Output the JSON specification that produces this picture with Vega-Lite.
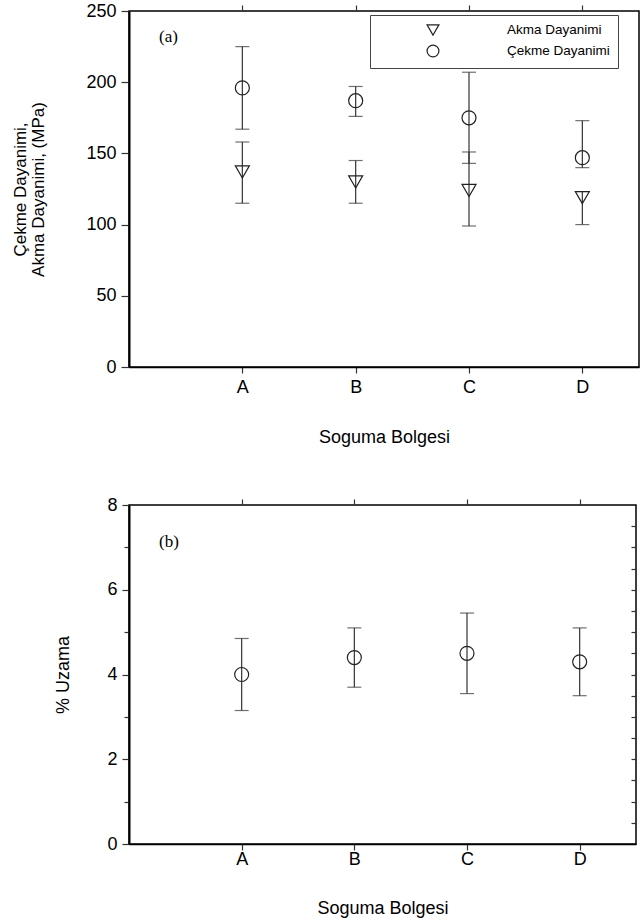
{
  "$schema": "https://vega.github.io/schema/vega-lite/v6.json",
  "background": "white",
  "padding": {"top": 1, "left": 11, "right": 0, "bottom": 0},
  "spacing": 48,
  "config": {
    "view": {"stroke": "black", "strokeWidth": 1.5},
    "axis": {"grid": false, "domainColor": "black", "domainWidth": 1.5, "tickColor": "#333", "tickWidth": 1.2, "labelFont": "Liberation Sans", "labelFontSize": 18, "labelColor": "black", "titleFont": "Liberation Sans", "titleFontSize": 18, "titleFontWeight": "normal", "titleColor": "black"},
    "title": {"font": "Liberation Serif", "fontSize": 17, "fontWeight": "normal", "color": "black"}
  },
  "vconcat": [
    {
      "width": 510,
      "height": 356,
      "title": {"text": "(a)", "anchor": "start", "frame": "group", "orient": "top", "offset": -35, "dx": 30, "dy": 26, "baseline": "bottom"},
      "data": {"values": [
        {"zone": "A", "series": "Çekme Dayanimi", "value": 196, "lo": 167, "hi": 225},
        {"zone": "B", "series": "Çekme Dayanimi", "value": 187, "lo": 176, "hi": 197},
        {"zone": "C", "series": "Çekme Dayanimi", "value": 175, "lo": 143, "hi": 207},
        {"zone": "D", "series": "Çekme Dayanimi", "value": 147, "lo": 140, "hi": 173},
        {"zone": "A", "series": "Akma Dayanimi", "value": 137, "lo": 115, "hi": 158},
        {"zone": "B", "series": "Akma Dayanimi", "value": 130, "lo": 115, "hi": 145},
        {"zone": "C", "series": "Akma Dayanimi", "value": 124, "lo": 99, "hi": 151},
        {"zone": "D", "series": "Akma Dayanimi", "value": 119, "lo": 100, "hi": 123}
      ]},
      "layer": [
        {
          "mark": {"type": "rule", "color": "#333", "strokeWidth": 1.2},
          "encoding": {
            "x": {"field": "zone", "type": "ordinal", "scale": {"type": "point", "domain": ["A", "B", "C", "D"], "padding": 0.75, "align": 0.6667},
                  "axis": {"orient": "bottom", "title": "Soguma Bolgesi", "tickSize": 6, "labelPadding": 5, "titlePadding": 32, "labelAngle": 0}},
            "y": {"field": "lo", "type": "quantitative", "scale": {"domain": [0, 250], "nice": false},
                  "axis": {"values": [0, 25, 50, 75, 100, 125, 150, 175, 200, 225, 250], "labelExpr": "datum.value % 50 === 0 ? datum.label : ''",
                           "tickSize": {"condition": {"test": "datum.value % 50 === 0", "value": 8}, "value": 5},
                           "labelPadding": 5, "domainWidth": 2, "title": ["Çekme Dayanimi,", "Akma Dayanimi, (MPa)"], "titleFontSize": 17, "titlePadding": 38, "titleLineHeight": 18}},
            "y2": {"field": "hi"}
          }
        },
        {
          "mark": {"type": "tick", "orient": "horizontal", "color": "#333", "size": 14, "thickness": 1.2},
          "encoding": {
            "x": {"field": "zone", "type": "ordinal", "axis": null},
            "y": {"field": "lo", "type": "quantitative"}
          }
        },
        {
          "mark": {"type": "tick", "orient": "horizontal", "color": "#333", "size": 14, "thickness": 1.2},
          "encoding": {
            "x": {"field": "zone", "type": "ordinal", "axis": null},
            "y": {"field": "hi", "type": "quantitative"}
          }
        },
        {
          "mark": {"type": "point", "filled": false, "color": "#222", "strokeWidth": 1.2, "size": 196, "opacity": 1},
          "encoding": {
            "x": {"field": "zone", "type": "ordinal", "axis": {"orient": "top", "title": null, "labels": false, "tickSize": 6, "domain": false}},
            "y": {"field": "value", "type": "quantitative"},
            "shape": {"field": "series", "type": "nominal", "scale": {"domain": ["Akma Dayanimi", "Çekme Dayanimi"], "range": ["triangle-down", "circle"]},
                      "legend": {"orient": "none", "legendX": 241, "legendY": 4, "title": null, "padding": 8, "symbolOffset": 48, "labelOffset": 67,
                                 "strokeColor": "#444", "fillColor": "white", "symbolSize": 140, "symbolStrokeWidth": 1.2, "symbolStrokeColor": "#222",
                                 "labelFont": "Liberation Sans", "labelFontSize": 13.5, "labelColor": "black", "rowPadding": 4}}
          }
        }
      ],
      "resolve": {"axis": {"x": "independent"}}
    },
    {
      "width": 507,
      "height": 339,
      "title": {"text": "(b)", "anchor": "start", "frame": "group", "orient": "top", "offset": -36, "dx": 30, "dy": 36, "baseline": "bottom"},
      "data": {"values": [
        {"zone": "A", "value": 4.0, "lo": 3.15, "hi": 4.85},
        {"zone": "B", "value": 4.4, "lo": 3.7, "hi": 5.1},
        {"zone": "C", "value": 4.5, "lo": 3.55, "hi": 5.45},
        {"zone": "D", "value": 4.3, "lo": 3.5, "hi": 5.1}
      ]},
      "layer": [
        {
          "mark": {"type": "rule", "color": "#333", "strokeWidth": 1.2},
          "encoding": {
            "x": {"field": "zone", "type": "ordinal", "scale": {"type": "point", "domain": ["A", "B", "C", "D"], "padding": 0.75, "align": 0.6667},
                  "axis": {"orient": "bottom", "title": "Soguma Bolgesi", "tickSize": 6, "labelPadding": 0, "titlePadding": 31, "labelAngle": 0}},
            "y": {"field": "lo", "type": "quantitative", "scale": {"domain": [0, 8], "nice": false},
                  "axis": {"values": [0, 0.5, 1, 1.5, 2, 2.5, 3, 3.5, 4, 4.5, 5, 5.5, 6, 6.5, 7, 7.5, 8], "format": "d", "labelExpr": "datum.value % 2 === 0 ? datum.label : ''",
                           "tickSize": {"condition": {"test": "datum.value % 2 === 0", "value": 7}, "value": 5},
                           "labelPadding": 5, "domainWidth": 2, "title": "% Uzama", "titlePadding": 34}},
            "y2": {"field": "hi"}
          }
        },
        {
          "mark": {"type": "tick", "orient": "horizontal", "color": "#333", "size": 14, "thickness": 1.2},
          "encoding": {
            "x": {"field": "zone", "type": "ordinal", "axis": null},
            "y": {"field": "lo", "type": "quantitative", "axis": null}
          }
        },
        {
          "mark": {"type": "tick", "orient": "horizontal", "color": "#333", "size": 14, "thickness": 1.2},
          "encoding": {
            "x": {"field": "zone", "type": "ordinal", "axis": null},
            "y": {"field": "hi", "type": "quantitative", "axis": null}
          }
        },
        {
          "mark": {"type": "point", "shape": "circle", "filled": false, "color": "#222", "strokeWidth": 1.2, "size": 196, "opacity": 1},
          "encoding": {
            "x": {"field": "zone", "type": "ordinal", "axis": {"orient": "top", "title": null, "labels": false, "tickSize": 6, "domain": false}},
            "y": {"field": "value", "type": "quantitative", "axis": {"orient": "right", "title": null, "labels": false, "domain": false, "tickSize": -5,
                  "values": [0.5, 1, 1.5, 2, 2.5, 3, 3.5, 4, 4.5, 5, 5.5, 6, 6.5, 7, 7.5]}}
          }
        }
      ],
      "resolve": {"axis": {"x": "independent", "y": "independent"}}
    }
  ]
}
